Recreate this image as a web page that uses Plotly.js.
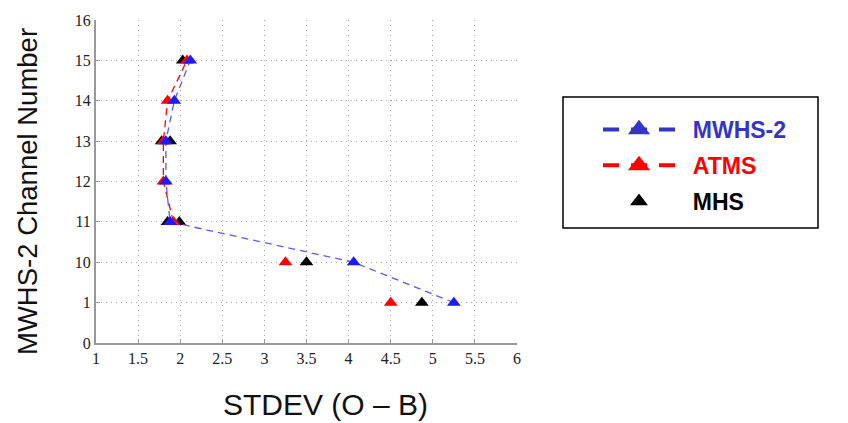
<!DOCTYPE html>
<html>
<head>
<meta charset="utf-8">
<script src="https://cdn.plot.ly/plotly-3.0.1.min.js"></script>
<style>html,body{margin:0;padding:0;background:#fff;}#chart{width:848px;height:423px;}</style>
</head>
<body>
<div id="chart"></div>
<script>
// Channel tick labels (evenly spaced positions)
const tickLabels = ['0','1','10','11','12','13','14','15','16'];
const xTickVals = [1,1.5,2,2.5,3,3.5,4,4.5,5,5.5,6];
const xTickText = ['1','1.5','2','2.5','3','3.5','4','4.5','5','5.5','6'];

// MWHS-2 (blue, dashed line + markers)
const mwhsChannels = ['1','10','11','12','13','14','15'];
const mwhsStdev = [5.25, 4.06, 1.88, 1.83, 1.83, 1.93, 2.12];

// ATMS (red) — dashed line over channels 11-15, markers only for 1 and 10
const atmsLineChannels = ['11','12','13','14','15'];
const atmsLineStdev = [1.92, 1.80, 1.80, 1.85, 2.08];
const atmsPointChannels = ['1','10'];
const atmsPointStdev = [4.50, 3.25];

// MHS (black markers)
const mhsChannels = ['1','10','11','11','13','13','15'];
const mhsStdev = [4.87, 3.50, 1.85, 1.99, 1.78, 1.88, 2.03];

const pos = c => tickLabels.indexOf(c);

const legendBlue = '#3434c8', red = '#ff0000', black = '#000000';
const sp = '\u00a0\u00a0';
const traces = [
  {x: mhsStdev, y: mhsChannels.map(pos), mode: 'markers', type: 'scatter', legendgroup: 'c',
   name: sp + '<b>MHS</b>', marker: {symbol: 'triangle-up', size: 12, color: black}, legendrank: 3},
  {x: atmsPointStdev, y: atmsPointChannels.map(pos), mode: 'markers', type: 'scatter',
   showlegend: false, marker: {symbol: 'triangle-up', size: 12, color: red}},
  {x: atmsLineStdev, y: atmsLineChannels.map(pos), mode: 'lines+markers', type: 'scatter', legendgroup: 'b',
   name: sp + '<b>ATMS</b>', line: {color: red, width: 1.3, dash: '7px,5px'},
   marker: {symbol: 'triangle-up', size: 12, color: red}, legendrank: 2},
  {x: mwhsStdev, y: mwhsChannels.map(pos), mode: 'lines+markers', type: 'scatter', legendgroup: 'a',
   name: sp + '<b>MWHS-2</b>', line: {color: '#5a5aff', width: 1.3, dash: '7px,5px'},
   marker: {symbol: 'triangle-up', size: 12, color: '#1a1aff'}, legendrank: 1}
];

const W = 848, H = 423, L = 96, R = 517, T = 20, B = 343;
const px = x => (x - L) / (R - L);
const py = y => (B - y) / (B - T);

const layout = {
  width: W, height: H,
  margin: {l: L, r: W - R, t: T, b: H - B},
  paper_bgcolor: '#fff', plot_bgcolor: '#fff',
  showlegend: true,
  legend: {
    x: px(598), y: py(108), xanchor: 'left', yanchor: 'top',
    borderwidth: 0, bgcolor: 'rgba(0,0,0,0)',
    font: {family: 'Liberation Sans, Arial, sans-serif', size: 23, color: '#000'},
    itemwidth: 72, traceorder: 'grouped', tracegroupgap: 3
  },
  shapes: [{type: 'rect', xref: 'paper', yref: 'paper',
            x0: px(563), x1: px(818), y0: py(228), y1: py(97),
            line: {color: '#000', width: 1.5}}],
  annotations: [
    {text: 'STDEV (O – B)', xref: 'paper', yref: 'paper', x: px(325), y: py(404),
     xanchor: 'center', yanchor: 'middle', showarrow: false,
     font: {family: 'Liberation Sans, Arial, sans-serif', size: 30, color: '#111'}},
    {text: 'MWHS-2 Channel Number', xref: 'paper', yref: 'paper', x: px(28), y: py(192),
     xanchor: 'center', yanchor: 'middle', showarrow: false, textangle: -90,
     font: {family: 'Liberation Sans, Arial, sans-serif', size: 27.5, color: '#111'}}
  ],
  xaxis: {
    range: [1, 6], tickmode: 'array', tickvals: xTickVals, ticktext: xTickText,
    showgrid: true, gridcolor: '#a8a8a8', griddash: '1px,4px', gridwidth: 1,
    showline: true, linecolor: '#999', linewidth: 2,
    ticks: 'inside', ticklen: 4, tickcolor: '#999',
    zeroline: false,
    tickfont: {family: 'Liberation Serif, Times New Roman, serif', size: 16, color: '#222'}
  },
  yaxis: {
    range: [0, 8], tickmode: 'array',
    tickvals: tickLabels.map((t, i) => i), ticktext: tickLabels,
    showgrid: true, gridcolor: '#a8a8a8', griddash: '1px,4px', gridwidth: 1,
    showline: true, linecolor: '#999', linewidth: 2,
    ticks: 'inside', ticklen: 4, tickcolor: '#999',
    zeroline: false,
    tickfont: {family: 'Liberation Serif, Times New Roman, serif', size: 16, color: '#222'}
  }
};

Plotly.newPlot('chart', traces, layout, {displayModeBar: false, staticPlot: true}).then(() => {
  const colors = {'MWHS-2': legendBlue, 'ATMS': red, 'MHS': black};
  document.querySelectorAll('.legend .traces').forEach(g => {
    const el = g.querySelector('.legendtext');
    const t = el ? el.textContent.trim() : '';
    if (colors[t]) {
      el.style.fill = colors[t];
      const hasLine = g.querySelectorAll('.legendlines path').length > 0;
      g.querySelectorAll('.legendlines path').forEach(p => {
        p.style.stroke = colors[t];
        p.style.strokeWidth = '4px';
        p.style.strokeDasharray = '16px,12px';
      });
      g.querySelectorAll('.legendpoints path').forEach(p => {
        p.style.fill = colors[t];
        const tr = p.getAttribute('transform') || '';
        p.setAttribute('transform', tr + (hasLine ? ' scale(1.6)' : ' scale(1.3)'));
      });
    }
  });
});
</script>
</body>
</html>
